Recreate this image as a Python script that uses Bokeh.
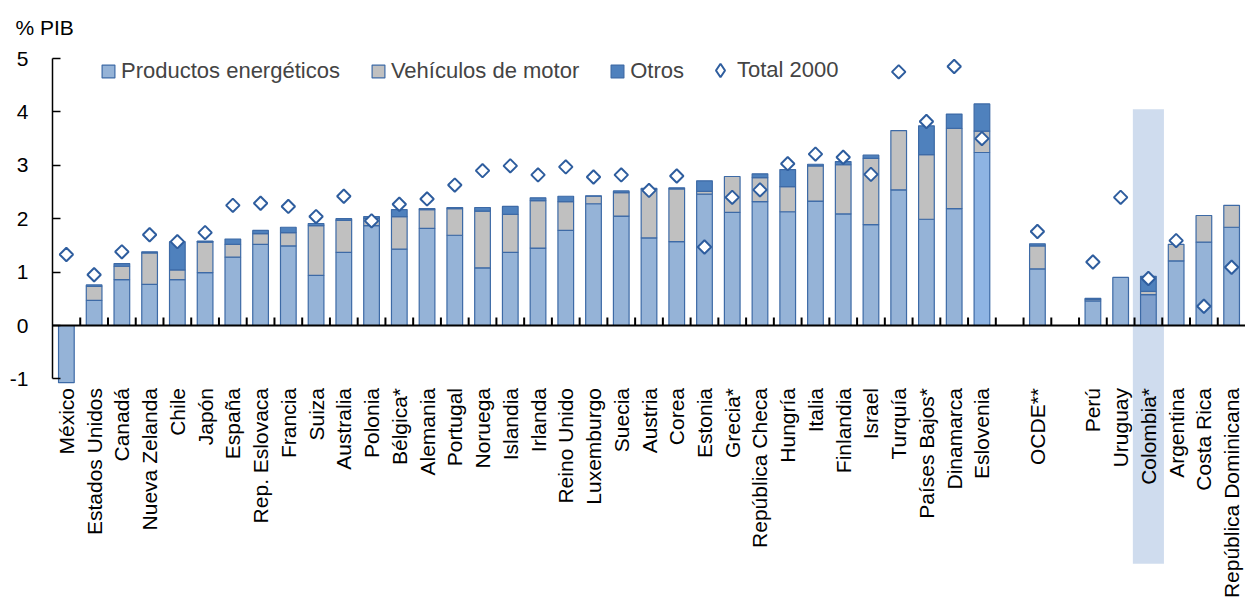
import math
import pandas as pd
from bokeh.plotting import figure
from bokeh.models import (ColumnDataSource, Range1d, FixedTicker, Span, Legend,
                          LegendItem)
from bokeh.core.properties import value
from bokeh.embed import file_html
from bokeh.resources import INLINE

# ---------------- data (% of GDP) ----------------
oecd_countries = ["México", "Estados Unidos", "Canadá", "Nueva Zelanda", "Chile", "Japón",
                  "España", "Rep. Eslovaca", "Francia", "Suiza", "Australia", "Polonia",
                  "Bélgica*", "Alemania", "Portugal", "Noruega", "Islandia", "Irlanda",
                  "Reino Unido", "Luxemburgo", "Suecia", "Austria", "Corea", "Estonia",
                  "Grecia*", "República Checa", "Hungría", "Italia", "Finlandia", "Israel",
                  "Turquía", "Países Bajos*", "Dinamarca", "Eslovenia"]
oecd_average = ["OCDE**"]
lac_countries = ["Perú", "Uruguay", "Colombia*", "Argentina", "Costa Rica",
                 "República Dominicana"]

energy_products = [-1.07, 0.47, 0.86, 0.77, 0.86, 0.99, 1.28, 1.52, 1.49, 0.94, 1.37, 1.87,
                   1.43, 1.82, 1.69, 1.08, 1.37, 1.45, 1.78, 2.28, 2.05, 1.64, 1.57, 2.46,
                   2.12, 2.32, 2.13, 2.33, 2.09, 1.89, 2.54, 1.99, 2.19, 3.24,
                   1.06,
                   0.46, 0.90, 0.58, 1.21, 1.56, 1.84]
motor_vehicles = [0.00, 0.26, 0.25, 0.59, 0.18, 0.57, 0.24, 0.20, 0.25, 0.93, 0.60, 0.13,
                  0.61, 0.35, 0.50, 1.06, 0.71, 0.89, 0.54, 0.14, 0.44, 0.91, 0.99, 0.05,
                  0.67, 0.45, 0.47, 0.66, 0.92, 1.24, 1.11, 1.21, 1.50, 0.40,
                  0.43,
                  0.03, 0.00, 0.06, 0.31, 0.50, 0.41]
others = [0.00, 0.03, 0.05, 0.02, 0.53, 0.02, 0.10, 0.06, 0.10, 0.04, 0.03, 0.04,
          0.13, 0.02, 0.02, 0.07, 0.15, 0.05, 0.10, 0.01, 0.03, 0.02, 0.02, 0.20,
          0.00, 0.07, 0.32, 0.03, 0.06, 0.06, 0.00, 0.54, 0.27, 0.51,
          0.04,
          0.02, 0.00, 0.28, 0.00, 0.00, 0.00]
total_2000 = [1.33, 0.95, 1.38, 1.70, 1.57, 1.74, 2.25, 2.29, 2.23, 2.04, 2.42, 1.96,
              2.27, 2.37, 2.63, 2.90, 2.99, 2.82, 2.97, 2.78, 2.82, 2.53, 2.80, 1.47,
              2.40, 2.54, 3.03, 3.21, 3.15, 2.83, 4.75, 3.82, 4.85, 3.50,
              1.76,
              1.19, 2.40, 0.88, 1.59, 0.36, 1.09]
highlight_country = "Colombia*"
y_ticks = [-1, 0, 1, 2, 3, 4, 5]

# ---------------- layout of category slots (one empty slot between groups) ----------------
names, xs = [], []
pos = 0
for gi, grp in enumerate([oecd_countries, oecd_average, lac_countries]):
    if gi > 0:
        pos += 1
    for c in grp:
        names.append(c)
        xs.append(pos)
        pos += 1
n_slots = pos

df = pd.DataFrame({"name": names, "x": xs, "energy": energy_products,
                   "vehicles": motor_vehicles, "others": others, "total": total_2000})
df["e_bot"] = 0.0
df["e_top"] = df["energy"]
df["v_bot"] = df["energy"].clip(lower=0)
df["v_top"] = df["v_bot"] + df["vehicles"]
df["o_bot"] = df["v_top"]
df["o_top"] = df["o_bot"] + df["others"]
energy_color = {"Eslovenia": "#8eb4e3", "Colombia*": "#7f9fcc"}
df["e_color"] = [energy_color.get(n, "#95b3d7") for n in df["name"]]

# ---------------- figure geometry ----------------
W, H = 1245, 606
TOP, LEFT = 43, 52
PX = 53.4                 # pixels per unit
ZERO_Y = 325              # canvas y of value 0
y_top = (ZERO_Y - TOP) / PX
y_bot = y_top - (H - TOP) / PX
FRAME_H = H - TOP

FONT = "Liberation Sans"
BORDER = "#3d6aa6"
DIAMOND = "#2e5d9e"

p = figure(width=W, height=H, output_backend="svg", toolbar_location=None,
           x_range=Range1d(-0.5, n_slots - 0.5), y_range=Range1d(y_bot, y_top),
           x_axis_location=None, min_border_left=LEFT, min_border_right=0,
           min_border_top=TOP, min_border_bottom=0, title="% PIB")
p.grid.visible = False
p.outline_line_color = None
p.background_fill_color = "white"
p.border_fill_color = "white"

p.title.text_font = FONT
p.title.text_font_size = "21px"
p.title.text_font_style = "normal"
p.title.text_color = "black"
p.title.align = "left"
p.title.offset = -37

# highlight band behind Colombia
hl = df[df["name"] == highlight_country]
p.quad(left=hl["x"] - 0.56, right=hl["x"] + 0.56, top=4.05, bottom=-4.46,
       fill_color="#cfdcee", line_color=None)

BW = 0.565
src_e = ColumnDataSource(df[df["energy"] != 0])
src_v = ColumnDataSource(df[df["vehicles"] > 0])
src_o = ColumnDataSource(df[df["others"] > 0])
r_e = p.vbar(x="x", bottom="e_bot", top="e_top", width=BW, source=src_e,
             fill_color="e_color", line_color=BORDER, line_width=1.2)
r_v = p.vbar(x="x", bottom="v_bot", top="v_top", width=BW, source=src_v,
             fill_color="#c0c0c0", line_color=BORDER, line_width=1.2)
r_o = p.vbar(x="x", bottom="o_bot", top="o_top", width=BW, source=src_o,
             fill_color="#4f81bd", line_color=BORDER, line_width=1.2)

src_all = ColumnDataSource(df)
p.scatter(x="x", y="total", source=src_all, marker="square", angle=math.pi / 4,
          size=9.5, fill_color="white", line_color=DIAMOND, line_width=2)
# legend-only sample for the diamonds (no data points)
r_d_leg = p.scatter(x=[float("nan")], y=[float("nan")], marker="diamond",
                    fill_color="white", line_color=DIAMOND, line_width=2)

# zero line and category separators
p.add_layout(Span(location=0, dimension="width", line_color="black", line_width=2))
bx = [b + 0.5 for b in range(n_slots - 1)]
p.segment(x0=bx, y0=[0] * len(bx), x1=bx, y1=[8 / PX] * len(bx),
          line_color="black", line_width=2)

# category labels (vertical)
p.text(x="x", y=-1.17, text="name", source=src_all, angle=math.pi / 2,
       text_align="right", text_baseline="middle", text_font=value(FONT),
       text_font_size="21px", text_color="black")

# y axis
ax = p.yaxis[0]
ax.ticker = FixedTicker(ticks=y_ticks)
ax.major_label_overrides = {t: str(t) for t in y_ticks}
ax.bounds = (-1, 5)
ax.major_tick_in = 8
ax.major_tick_out = 0
ax.minor_tick_line_color = None
ax.axis_line_width = 1.5
ax.major_tick_line_width = 1.5
ax.major_label_standoff = 24
ax.major_label_text_font = FONT
ax.major_label_text_font_size = "21px"
ax.major_label_text_color = "black"

legend = Legend(items=[LegendItem(label="Productos energéticos", renderers=[r_e]),
                       LegendItem(label="Vehículos de motor", renderers=[r_v]),
                       LegendItem(label="Otros", renderers=[r_o])],
                orientation="horizontal", location=(48, FRAME_H - 41),
                glyph_width=16, glyph_height=16, label_standoff=5, spacing=30,
                padding=0, margin=0, label_height=16,
                label_text_font=FONT, label_text_font_size="22px",
                border_line_alpha=0, background_fill_alpha=0)
p.add_layout(legend)

legend2 = Legend(items=[LegendItem(label="Total 2000", renderers=[r_d_leg])],
                 orientation="horizontal", location=(651, FRAME_H - 44),
                 glyph_width=34, glyph_height=34, label_standoff=-6,
                 padding=0, margin=0, label_height=16,
                 label_text_font=FONT, label_text_font_size="22px",
                 border_line_alpha=0, background_fill_alpha=0)
p.add_layout(legend2)

open("out.html", "w").write(file_html(p, INLINE))
